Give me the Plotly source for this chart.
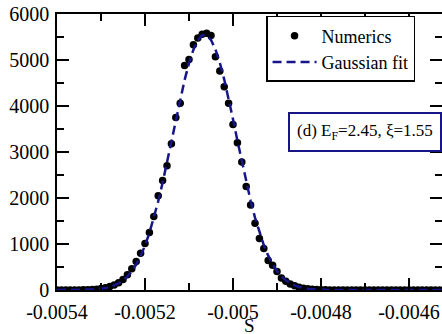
import numpy as np
import plotly.graph_objects as go

# S grid (regular sampling, step 1e-5)
S_START = -0.0054
S_STEP = 1e-5
N_POINTS = 91
s_values = np.round(S_START + S_STEP * np.arange(N_POINTS), 7)

numerics = [
    0, 0, 0, 0, 0, 2, 3, 6, 11, 18,
    35, 50, 75, 110, 160, 230, 330, 460, 620, 800,
    1010, 1250, 1600, 2050, 2380, 2700, 3180, 3750, 4060, 4880,
    5010, 5330, 5480, 5560, 5580, 5530, 5070, 4760, 4420, 4060,
    3600, 3200, 2780, 2250, 1850, 1450, 1120, 900, 640, 540,
    400, 260, 190, 130, 90, 60, 40, 25, 15, 9,
    5, 3, 2, 1, 1, 0, 0, 0, 0, 0,
    0, 0, 0, 0, 0, 0, 0, 0, 0, 0,
    0, 0, 0, 0, 0, 0, 0, 0, 0, 0,
    0,
]

gaussian_fit = [
    0, 0, 0, 1, 1, 2, 3, 6, 11, 18,
    28, 43, 66, 99, 145, 209, 294, 408, 554, 739,
    966, 1239, 1560, 1926, 2333, 2772, 3231, 3696, 4147, 4565,
    4929, 5223, 5429, 5536, 5538, 5435, 5233, 4943, 4580, 4165,
    3714, 3250, 2790, 2349, 1941, 1573, 1251, 976, 747, 561,
    413, 298, 212, 147, 100, 67, 44, 28, 17, 10,
    6, 3, 2, 1, 1, 0, 0, 0, 0, 0,
    0, 0, 0, 0, 0, 0, 0, 0, 0, 0,
    0, 0, 0, 0, 0, 0, 0, 0, 0, 0,
    0,
]

x_tick_vals = [-0.0054, -0.0052, -0.005, -0.0048, -0.0046]
x_tick_text = ["-0.0054", "-0.0052", "-0.005", "-0.0048", "-0.0046"]
y_tick_vals = [0, 1000, 2000, 3000, 4000, 5000, 6000]
y_tick_text = ["0", "1000", "2000", "3000", "4000", "5000", "6000"]
x_title = "S"

SERIF = "Liberation Serif"
NAVY = "#16168a"

fig = go.Figure()
fig.add_trace(go.Scatter(
    x=s_values, y=numerics, mode="markers", name="Numerics",
    marker=dict(color="black", size=7.5, symbol="circle"),
    legendrank=1,
))
fig.add_trace(go.Scatter(
    x=s_values, y=gaussian_fit, mode="lines", name="Gaussian fit",
    line=dict(color=NAVY, width=2.5, dash="9px,5px"),
    legendrank=2,
))

axis_common = dict(
    showline=True, linecolor="black", linewidth=1.5, mirror="ticks",
    ticks="inside", ticklen=12, tickwidth=1.5, tickcolor="black",
    showgrid=False, zeroline=False, automargin=False,
    ticklabeloverflow="allow",
    tickfont=dict(family=SERIF, size=20, color="black"),
)

fig.update_xaxes(
    range=[-0.0054, -0.004525],
    tickmode="array", tickvals=x_tick_vals, ticktext=x_tick_text,
    minor=dict(dtick=0.0001, tick0=-0.0054, ticks="inside", ticklen=7,
               tickwidth=1.5, tickcolor="black", showgrid=False),
    ticklabelstandoff=3,
    **axis_common,
)
fig.update_yaxes(
    range=[0, 6000],
    tickmode="array", tickvals=y_tick_vals, ticktext=y_tick_text,
    minor=dict(dtick=500, tick0=0, ticks="inside", ticklen=7,
               tickwidth=1.5, tickcolor="black", showgrid=False),
    ticklabelstandoff=2,
    **axis_common,
)

# x-axis title placed just below the tick labels
fig.add_annotation(
    x=0.5, y=0, xref="paper", yref="paper",
    xanchor="center", yanchor="middle", yshift=-35,
    text=x_title, showarrow=False,
    font=dict(family=SERIF, size=19, color="black"),
)

fig.add_annotation(
    x=0.8, y=0.572, xref="paper", yref="paper",
    xanchor="center", yanchor="middle",
    text="(d) E<sub>F</sub>=2.45, ξ=1.55",
    showarrow=False,
    font=dict(family=SERIF, size=17, color="black"),
    bordercolor=NAVY, borderwidth=2, borderpad=7, bgcolor="white",
)

fig.update_layout(
    width=442, height=334,
    margin=dict(l=57, r=0, t=14, b=44),
    paper_bgcolor="white", plot_bgcolor="white",
    font=dict(family=SERIF, color="black"),
    showlegend=True,
    legend=dict(
        x=0.543, y=0.993, xanchor="left", yanchor="top",
        bgcolor="white", bordercolor="black", borderwidth=1.5,
        font=dict(family=SERIF, size=18, color="black"),
        tracegroupgap=0, itemwidth=44,
    ),
)

# remove the browser's default 8px page margin so the figure fills the window
fig.write_html(
    "out.html",
    config={"displayModeBar": False},
    post_script="document.body.style.margin='0';",
)
